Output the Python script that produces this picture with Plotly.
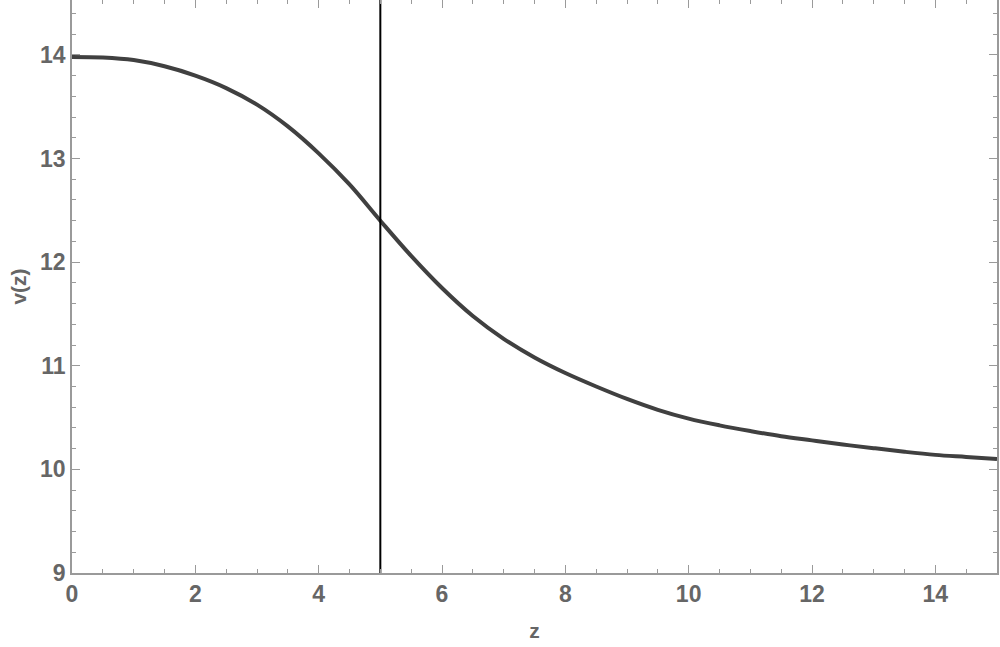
import plotly.graph_objects as go

# values
z = [0, 0.5, 1, 1.5, 2, 2.5, 3, 3.5, 4, 4.5, 5, 5.5, 6, 6.5, 7, 7.5,
     8, 8.5, 9, 9.5, 10, 10.5, 11, 11.5, 12, 12.5, 13, 13.5, 14, 14.5, 15]
v = [13.98, 13.975, 13.95, 13.89, 13.80, 13.68, 13.52, 13.31, 13.05, 12.75,
     12.40, 12.06, 11.75, 11.48, 11.26, 11.08, 10.93, 10.80, 10.68, 10.575,
     10.49, 10.425, 10.37, 10.32, 10.28, 10.24, 10.205, 10.17, 10.14, 10.12, 10.10]
z_mark = 5

grey = "#666666"
frame = "#9a9a9a"

fig = go.Figure()
fig.add_trace(go.Scatter(x=z, y=v, mode="lines",
                         line=dict(color="#404040", width=4, shape="spline", smoothing=1),
                         showlegend=False))
fig.add_trace(go.Scatter(x=[z_mark, z_mark], y=[9, 14.53], mode="lines",
                         line=dict(color="black", width=2), showlegend=False))

tickfont = dict(family="Liberation Sans, Arial", size=23, color=grey, weight="bold")
titlefont = dict(family="Liberation Sans, Arial", size=21, color=grey, weight="bold")

fig.update_layout(width=1000, height=647, plot_bgcolor="white", paper_bgcolor="white",
                  margin=dict(l=72, r=3, t=0, b=74))
fig.update_xaxes(range=[0, 15], tickvals=[0, 2, 4, 6, 8, 10, 12, 14],
                 ticks="inside", ticklen=8, tickwidth=1.2, tickcolor=frame,
                 minor=dict(dtick=0.5, ticks="inside", ticklen=4, tickcolor=frame, tickwidth=1),
                 showline=True, linecolor=frame, linewidth=1.5, mirror="ticks",
                 showgrid=False, zeroline=False, tickfont=tickfont, automargin=False,
                 title=dict(text="z", font=titlefont, standoff=17))
fig.update_yaxes(range=[9, 14.53], tickvals=[9, 10, 11, 12, 13, 14],
                 ticks="inside", ticklen=8, tickwidth=1.2, tickcolor=frame,
                 minor=dict(dtick=0.2, ticks="inside", ticklen=4, tickcolor=frame, tickwidth=1),
                 showline=True, linecolor=frame, linewidth=1.5, mirror="ticks",
                 showgrid=False, zeroline=False, tickfont=tickfont, automargin=False,
                 title=dict(text="v(z)", font=titlefont, standoff=8))

fig.write_html("out.html", config={"displayModeBar": False},
               post_script="document.body.style.margin='0';document.body.style.overflow='hidden';")
